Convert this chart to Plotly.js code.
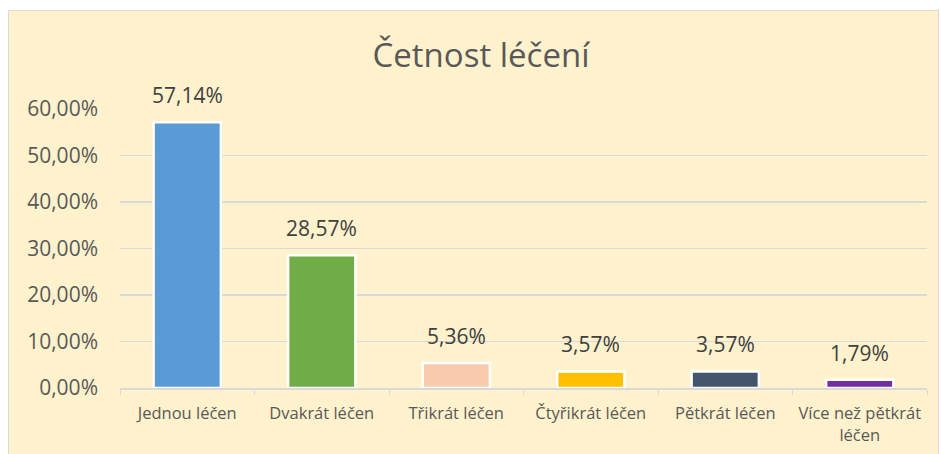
<!DOCTYPE html>
<html><head><meta charset="utf-8">
<script src="https://cdn.plot.ly/plotly-3.0.1.min.js"></script>
<style>
html,body{margin:0;padding:0;background:#fff;width:941px;height:454px;overflow:hidden;}
#frame{position:absolute;left:8px;top:10px;width:929px;height:460px;background:#FFF2CC;border:1px solid #d9d9d9;}
#chart{position:absolute;left:0;top:0;width:929px;height:443px;}
</style></head>
<body>
<div id="frame"><div id="chart"></div></div>
<script>
const categories = ["Jednou léčen","Dvakrát léčen","Třikrát léčen","Čtyřikrát léčen","Pětkrát léčen","Více než pětkrát<br>léčen"];
const values = [57.14, 28.57, 5.36, 3.57, 3.57, 1.79];
const barColors = ["#5B9BD5","#70AD47","#F8CBAD","#FFC000","#44546A","#7030A0"];
const yTicks = [0,10,20,30,40,50,60];
const titleText = "Četnost léčení";

const font = "Open Sans, sans-serif";
const trace = {
  type:"bar", x:categories, y:values,
  marker:{color:barColors, line:{color:"#ffffff", width:2.5}},
  width:0.5, hoverinfo:"none"
};
const annotations = categories.map((c,i)=>({
  x:c, y:values[i], xref:"x", yref:"y",
  text: values[i].toFixed(2).replace(".",",")+"%",
  showarrow:false, yanchor:"bottom", yshift:11,
  font:{family:font, size:21, color:"#404040"}
}));
const layout = {
  width:929, height:443,
  paper_bgcolor:"rgba(0,0,0,0)", plot_bgcolor:"rgba(0,0,0,0)",
  margin:{l:111, r:11, t:98, b:66},
  separators:",.",
  showlegend:false,
  title:{text:titleText, x:(481-9)/929, xref:"container", xanchor:"center", y:1 - 44/443, yref:"container", yanchor:"middle", pad:{t:0},
    font:{family:font, size:33, color:"#595959"}},
  xaxis:{type:"category", tickson:"boundaries", ticks:"outside", ticklen:5, tickcolor:"#d9d9d9",
    showline:true, linecolor:"#d9d9d9", linewidth:1.5, showgrid:false, ticklabelstandoff:10,
    tickfont:{family:font, size:16.5, color:"#595959"}, fixedrange:true},
  yaxis:{range:[0,60], tickvals:yTicks, ticktext:yTicks.map(v=>v.toFixed(2).replace(".",",")+"%"),
    showgrid:true, gridcolor:"#d9d9d9", gridwidth:1.5, zeroline:false, showline:false,
    ticklabelstandoff:21, tickfont:{family:font, size:21, color:"#595959"}, fixedrange:true},
  annotations:annotations
};
Plotly.newPlot("chart",[trace],layout,{displayModeBar:false, staticPlot:true});
</script>
</body></html>
